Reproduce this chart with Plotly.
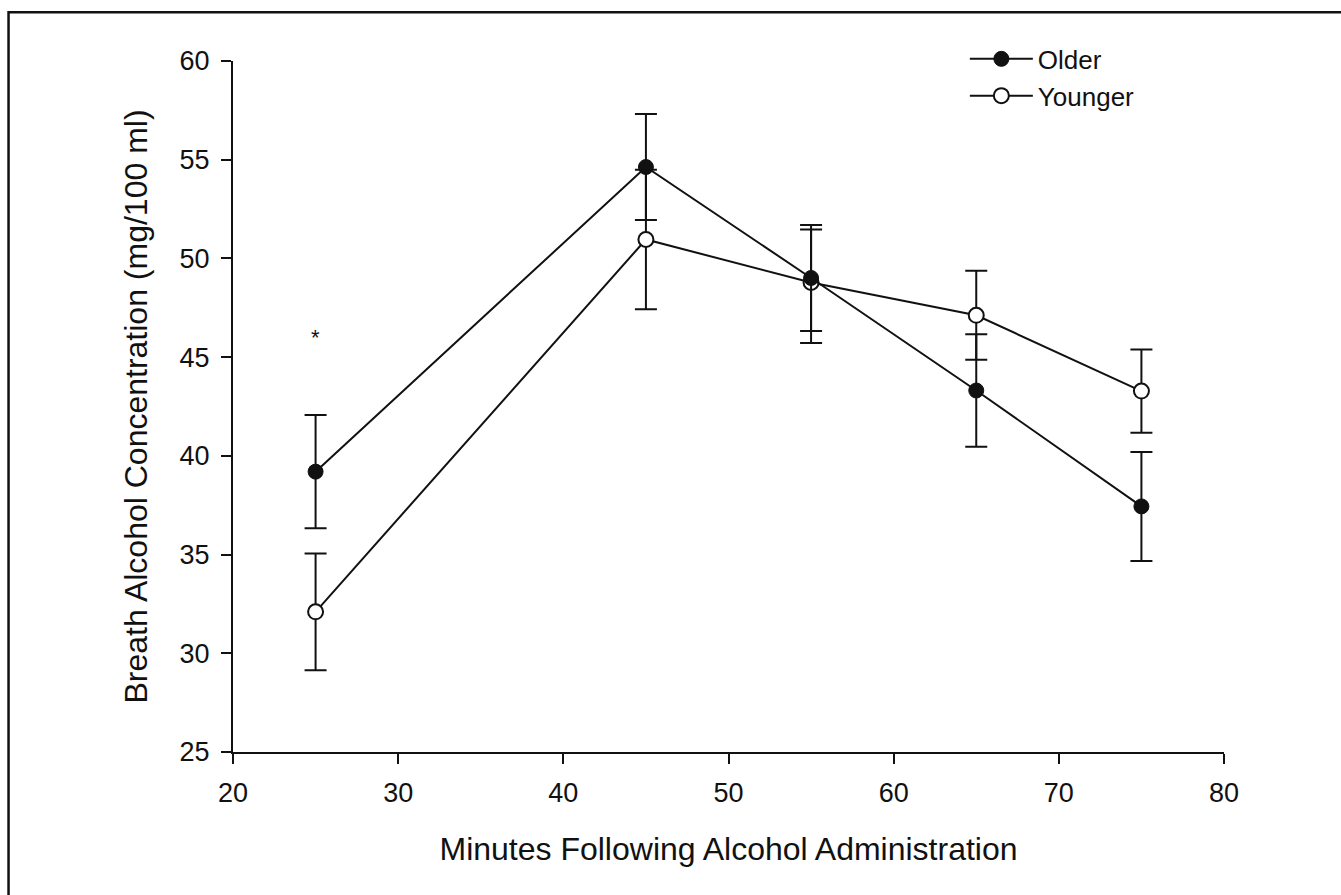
import plotly.graph_objects as go

minutes = [25, 45, 55, 65, 75]
older = [39.2, 54.63, 49.01, 43.31, 37.44]
older_err = [2.87, 2.68, 2.68, 2.85, 2.76]
younger = [32.1, 50.96, 48.78, 47.12, 43.28]
younger_err_plus = [2.96, 3.53, 2.68, 2.25, 2.11]
younger_err_minus = [2.96, 3.53, 3.06, 2.25, 2.11]
sig_x = [25]
sig_y = [46.2]
x_ticks = [20, 30, 40, 50, 60, 70, 80]
y_ticks = [25, 30, 35, 40, 45, 50, 55, 60]

FONT = "Liberation Sans, Arial, Helvetica, sans-serif"
INK = "#111111"

fig = go.Figure()
fig.add_trace(go.Scatter(
    x=minutes, y=younger, name="Younger", mode="lines+markers",
    line=dict(color=INK, width=2),
    marker=dict(symbol="circle", size=15, color="white", line=dict(color=INK, width=2)),
    error_y=dict(type="data", symmetric=False, array=younger_err_plus,
                 arrayminus=younger_err_minus, color=INK, thickness=2, width=11),
))
fig.add_trace(go.Scatter(
    x=minutes, y=older, name="Older", mode="lines+markers",
    line=dict(color=INK, width=2),
    marker=dict(symbol="circle", size=15, color=INK, line=dict(color=INK, width=1)),
    error_y=dict(type="data", array=older_err, color=INK, thickness=2, width=11),
))

for sx, sy in zip(sig_x, sig_y):
    fig.add_annotation(x=sx, y=sy, text="*", showarrow=False, yshift=-4,
                       font=dict(family=FONT, size=22, color=INK))

fig.add_shape(type="rect", xref="paper", yref="paper",
              x0=-0.2265, x1=1.3, y0=-0.4, y1=1.0705,
              line=dict(color=INK, width=2.5), fillcolor="rgba(0,0,0,0)", layer="below")

axis_common = dict(
    showgrid=False, zeroline=False, showline=True, linecolor=INK, linewidth=2,
    ticks="outside", ticklen=10, tickwidth=2, tickcolor=INK,
    tickfont=dict(family=FONT, size=27, color=INK),
)

fig.update_layout(
    width=1341, height=895,
    margin=dict(l=233, r=117, t=61, b=143),
    paper_bgcolor="white", plot_bgcolor="white",
    showlegend=True,
    legend=dict(
        x=0.7385, y=1.037, xanchor="left", yanchor="top",
        traceorder="reversed", itemwidth=63,
        font=dict(family=FONT, size=26, color=INK),
        bgcolor="rgba(0,0,0,0)",
    ),
    xaxis=dict(
        range=[20, 80], tickvals=x_ticks, ticklabelstandoff=6,
        title=dict(text="Minutes Following Alcohol Administration",
                   font=dict(family=FONT, size=32, color=INK), standoff=30),
        **axis_common,
    ),
    yaxis=dict(
        range=[25, 60], tickvals=y_ticks, ticklabelstandoff=6,
        title=dict(text="Breath Alcohol Concentration (mg/100 ml)",
                   font=dict(family=FONT, size=32, color=INK), standoff=22),
        **axis_common,
    ),
)

fig.write_html("out.html")
